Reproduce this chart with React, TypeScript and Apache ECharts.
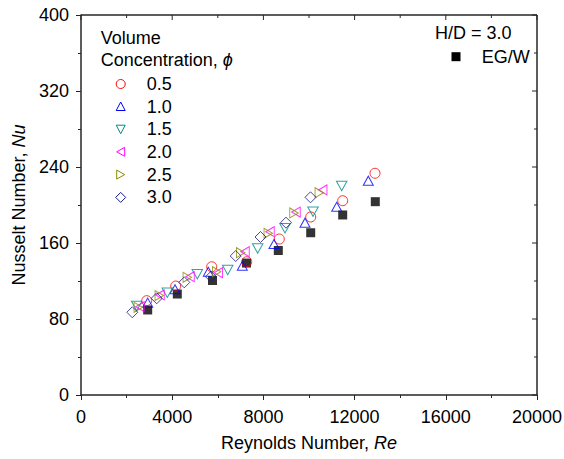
import React, { useEffect, useRef } from "react";
import * as echarts from "echarts";

// Reynolds number (x) and Nusselt number (y) per volume concentration
const reEGW = [2925, 4224, 5768, 7259, 8654, 10075, 11478, 12908];
const nuEGW = [89.5, 106.3, 120.5, 138.9, 152.1, 170.8, 189.5, 203.5];

const re05 = [2882, 4154, 5733, 7268, 8697, 10075, 11478, 12895];
const nu05 = [99.3, 114.7, 135.0, 140.3, 164.2, 187.4, 204.5, 233.4];

const re10 = [2925, 4123, 5583, 7075, 8465, 9825, 11215, 12601];
const nu10 = [97.2, 111.3, 129.8, 136.1, 158.9, 181.4, 198.2, 225.6];

const re15 = [2443, 3785, 5101, 6434, 7750, 8947, 10176, 11434];
const nu15 = [93.7, 107.7, 127.1, 131.6, 154.2, 175.5, 192.9, 220.0];

const re20 = [2588, 3465, 4781, 6022, 7193, 8289, 9430, 10601];
const nu20 = [92.9, 105.3, 124.5, 128.7, 150.8, 171.9, 192.6, 215.8];

const re25 = [2513, 3434, 4662, 5952, 7004, 8215, 9342, 10452];
const nu25 = [92.3, 104.7, 123.9, 129.8, 149.8, 170.2, 191.6, 212.9];

const re30 = [2250, 3320, 4531, 5702, 6785, 7873, 8991, 10066];
const nu30 = [87.1, 101.8, 118.6, 124.5, 146.3, 166.3, 181.4, 208.1];

const seriesNames = ["0.5", "1.0", "1.5", "2.0", "2.5", "3.0"];
const xTicks = [0, 4000, 8000, 12000, 16000, 20000];
const yTicks = [0, 80, 160, 240, 320, 400];

const FONT = "'Liberation Sans', Arial, sans-serif";

const RED = "#ff0000";
const BLUE = "#0000ff";
const TEAL = "#008a8a";
const MAGENTA = "#ff00ff";
const OLIVE = "#8a8a00";
const NAVY = "#16168f";
const AXIS = "#262626";

const W = 564;
const H = 459;

const pts = (re: number[], nu: number[]) => re.map((r, i) => [r, nu[i]]);

// major ticks plus one minor tick between each pair
const withMinor = (t: number[]) => {
  const out: { v: number; major: boolean }[] = [];
  t.forEach((v, i) => {
    out.push({ v, major: true });
    if (i < t.length - 1) out.push({ v: (v + t[i + 1]) / 2, major: false });
  });
  return out;
};

export default function App() {
  const ref = useRef<HTMLDivElement>(null);
  useEffect(() => {
    if (!ref.current) return;
    const chart = echarts.init(ref.current, undefined, { renderer: "svg" });

    const hollow = (c: string) => ({ color: "rgba(0,0,0,0)", borderColor: c, borderWidth: 1 });

    const lineStyle = { color: AXIS, width: 1.5 };
    const tickStyle = { color: AXIS, width: 1 };

    const legendYs = [84, 106.5, 129.2, 151.8, 174.6, 197.4];
    const lx = 120.7;
    const legendMarkers: any[] = [
      { type: "circle", shape: { cx: lx, cy: legendYs[0], r: 4.5 }, style: { fill: "none", stroke: RED, lineWidth: 1 } },
      { type: "polygon", shape: { points: [[lx, legendYs[1] - 4.5], [lx + 4.5, legendYs[1] + 4], [lx - 4.5, legendYs[1] + 4]] }, style: { fill: "none", stroke: BLUE, lineWidth: 1 } },
      { type: "polygon", shape: { points: [[lx - 4.5, legendYs[2] - 4], [lx + 4.5, legendYs[2] - 4], [lx, legendYs[2] + 4.5]] }, style: { fill: "none", stroke: TEAL, lineWidth: 1 } },
      { type: "polygon", shape: { points: [[lx + 4, legendYs[3] - 4.5], [lx + 4, legendYs[3] + 4.5], [lx - 4, legendYs[3]]] }, style: { fill: "none", stroke: MAGENTA, lineWidth: 1 } },
      { type: "polygon", shape: { points: [[lx - 4, legendYs[4] - 4.5], [lx - 4, legendYs[4] + 4.5], [lx + 4, legendYs[4]]] }, style: { fill: "none", stroke: OLIVE, lineWidth: 1 } },
      { type: "polygon", shape: { points: [[lx, legendYs[5] - 5], [lx + 5, legendYs[5]], [lx, legendYs[5] + 5], [lx - 5, legendYs[5]]] }, style: { fill: "none", stroke: NAVY, lineWidth: 1 } },
    ];
    const legendTexts = seriesNames.map((n, i) => ({
      type: "text",
      x: 146.7,
      y: legendYs[i],
      style: { text: n, font: `18px ${FONT}`, fill: "#000", verticalAlign: "middle" },
    }));

    const fmt = (v: number) => String(v);
    const rich = { i: { fontStyle: "italic", fontSize: 18, fontFamily: FONT, color: "#000" } };

    const xAll = withMinor(xTicks);
    const yAll = withMinor(yTicks);

    const frameRender = (params: any, api: any) => {
      const cs = params.coordSys;
      const x0 = cs.x;
      const y0 = cs.y;
      const x1 = cs.x + cs.width;
      const y1 = cs.y + cs.height;
      const children: any[] = [
        { type: "line", shape: { x1: x0, y1: y0, x2: x1, y2: y0 }, style: { stroke: AXIS, lineWidth: 1.5 } },
        { type: "line", shape: { x1: x1, y1: y0, x2: x1, y2: y1 }, style: { stroke: AXIS, lineWidth: 1.5 } },
      ];
      xAll.forEach((t) => {
        const px = api.coord([t.v, yTicks[0]])[0];
        children.push({
          type: "line",
          shape: { x1: px, y1: y0, x2: px, y2: y0 + (t.major ? 5 : 3) },
          style: { stroke: AXIS, lineWidth: 1 },
        });
      });
      yAll.forEach((t) => {
        const py = api.coord([xTicks[0], t.v])[1];
        children.push({
          type: "line",
          shape: { x1: x1, y1: py, x2: x1 - (t.major ? 5 : 3), y2: py },
          style: { stroke: AXIS, lineWidth: 1 },
        });
      });
      return { type: "group", children };
    };

    chart.setOption({
      animation: false,
      grid: { left: 81, right: 27, top: 15, bottom: 64, outerBoundsMode: "none" },
      xAxis: {
        type: "value",
        position: "bottom",
        min: xTicks[0],
        max: xTicks[xTicks.length - 1],
        interval: xTicks[1] - xTicks[0],
        axisLine: { show: true, lineStyle },
        axisTick: { show: true, inside: false, length: 5, lineStyle: tickStyle },
        minorTick: { show: true, splitNumber: 2, length: 3, lineStyle: tickStyle },
        splitLine: { show: false },
        axisLabel: { show: true, fontSize: 18, color: "#000", margin: 13, fontFamily: FONT, formatter: fmt },
        name: "Reynolds Number, {i|Re}",
        nameLocation: "middle",
        nameGap: 39,
        nameTextStyle: { fontSize: 18, color: "#000", fontFamily: FONT, rich },
      },
      yAxis: {
        type: "value",
        position: "left",
        min: yTicks[0],
        max: yTicks[yTicks.length - 1],
        interval: yTicks[1] - yTicks[0],
        axisLine: { show: true, lineStyle },
        axisTick: { show: true, inside: false, length: 5, lineStyle: tickStyle },
        minorTick: { show: true, splitNumber: 2, length: 3, lineStyle: tickStyle },
        splitLine: { show: false },
        axisLabel: { show: true, fontSize: 18, color: "#000", margin: 12, fontFamily: FONT, formatter: fmt },
        name: "Nusselt Number, {i|Nu}",
        nameLocation: "middle",
        nameGap: 46,
        nameTextStyle: { fontSize: 18, color: "#000", fontFamily: FONT, rich },
      },
      series: [
        {
          name: "frame",
          type: "custom",
          renderItem: frameRender,
          data: [[xTicks[0], yTicks[0]]],
          clip: false,
          silent: true,
          z: 10,
        },
        { name: "EG/W", type: "scatter", data: pts(reEGW, nuEGW), symbol: "rect", symbolSize: 9, itemStyle: { color: "#000" } },
        { name: seriesNames[0], type: "scatter", data: pts(re05, nu05), symbol: "circle", symbolSize: 10, itemStyle: hollow(RED) },
        { name: seriesNames[1], type: "scatter", data: pts(re10, nu10), symbol: "path://M5,0L10,9L0,9Z", symbolSize: [10, 9], itemStyle: hollow(BLUE) },
        { name: seriesNames[2], type: "scatter", data: pts(re15, nu15), symbol: "path://M0,0L10,0L5,9Z", symbolSize: [10.5, 9.5], itemStyle: hollow(TEAL) },
        { name: seriesNames[3], type: "scatter", data: pts(re20, nu20), symbol: "path://M9,0L9,10L0,5Z", symbolSize: [8.5, 10], itemStyle: hollow(MAGENTA) },
        { name: seriesNames[4], type: "scatter", data: pts(re25, nu25), symbol: "path://M0,0L0,10L9,5Z", symbolSize: [8.5, 10], itemStyle: hollow(OLIVE) },
        { name: seriesNames[5], type: "scatter", data: pts(re30, nu30), symbol: "diamond", symbolSize: 11, itemStyle: hollow(NAVY) },
      ],
      graphic: [
        { type: "text", x: 100.7, y: 37.7, style: { text: "Volume", font: `18px ${FONT}`, fill: "#000", verticalAlign: "middle" } },
        {
          type: "text",
          x: 100.7,
          y: 60,
          style: {
            text: "Concentration, {i|ϕ}",
            font: `18px ${FONT}`,
            fill: "#000",
            verticalAlign: "middle",
            rich: { i: { fontStyle: "italic", fontSize: 18, fontFamily: FONT, fill: "#000" } },
          },
        },
        ...legendMarkers,
        ...legendTexts,
        { type: "text", x: 435, y: 33.3, style: { text: "H/D = 3.0", font: `18px ${FONT}`, fill: "#000", verticalAlign: "middle" } },
        { type: "rect", shape: { x: 451.5, y: 52.2, width: 9, height: 9 }, style: { fill: "#000" } },
        { type: "text", x: 481.7, y: 56.7, style: { text: "EG/W", font: `18px ${FONT}`, fill: "#000", verticalAlign: "middle" } },
      ],
    });
    return () => chart.dispose();
  }, []);
  return (
    <div
      ref={ref}
      style={{ position: "fixed", left: 0, top: 0, width: W, height: H, background: "#fff" }}
    />
  );
}
